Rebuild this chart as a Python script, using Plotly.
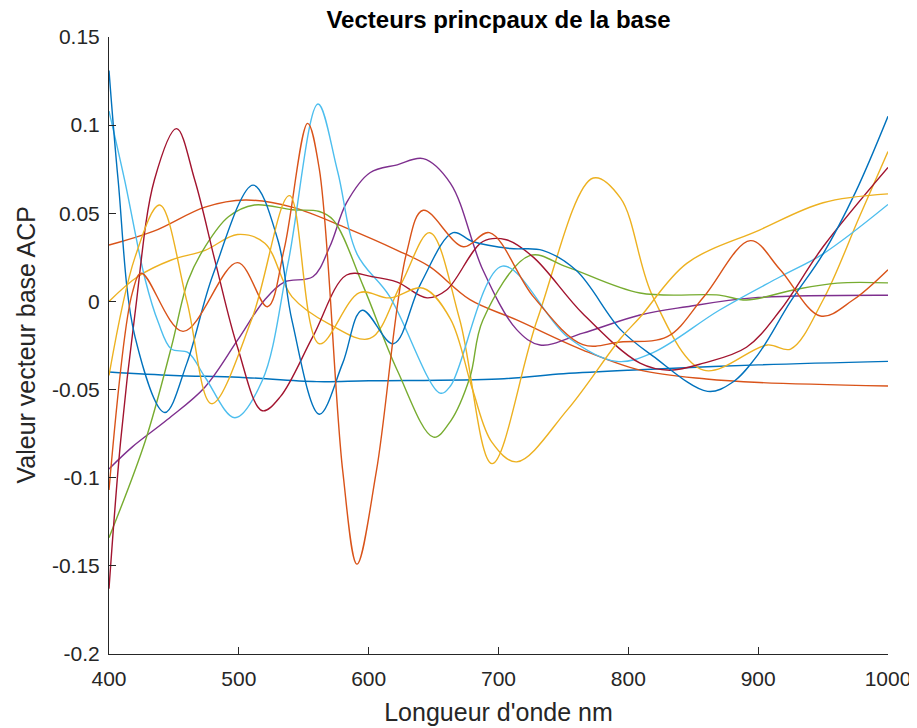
import plotly.graph_objects as go

# wavelength samples (nm) and values for each principal vector
blue_flat_x = [400, 450, 500, 560, 600, 700, 750, 800, 900, 1000]
blue_flat_y = [-0.040, -0.042, -0.043, -0.0455, -0.045, -0.044, -0.041, -0.039, -0.036, -0.034]

orange_smooth_x = [400, 435, 474, 505, 541, 583, 622, 647, 678, 714, 765, 809, 860, 901, 1000]
orange_smooth_y = [0.032, 0.040, 0.0535, 0.0575, 0.0535, 0.0416, 0.029, 0.0197, 0.001, -0.0105,
                   -0.0276, -0.039, -0.044, -0.046, -0.048]

yellow2_x = [400, 422, 448, 474, 499, 520, 541, 570, 601, 625, 647, 670, 695, 730, 773, 794,
             819, 858, 907, 925, 950, 978, 1000]
yellow2_y = [0.0, 0.014, 0.0235, 0.029, 0.038, 0.033, 0.0026, -0.013, -0.021, 0.01, 0.039, -0.01,
             -0.092, -0.01, 0.070, 0.0586, 0.0025, -0.039, -0.0247, -0.027, 0.0008, 0.048, 0.085]

purple_x = [400, 418, 445, 474, 499, 520, 535, 557, 570, 583, 601, 622, 642, 663, 688, 714,
            732, 765, 809, 845, 896, 1000]
purple_y = [-0.095, -0.0825, -0.067, -0.0485, -0.022, 0.001, 0.011, 0.014, 0.031, 0.056, 0.073,
            0.0775, 0.081, 0.067, 0.0178, -0.016, -0.0247, -0.018, -0.0077, -0.003, 0.002, 0.0035]

green_x = [400, 428, 448, 461, 474, 492, 512, 541, 562, 573, 596, 622, 650, 663, 678, 688,
           724, 753, 809, 870, 891, 927, 961, 1000]
green_y = [-0.134, -0.079, -0.026, 0.012, 0.031, 0.048, 0.0547, 0.052, 0.051, 0.046, 0.0084,
           -0.039, -0.077, -0.068, -0.043, -0.0105, 0.026, 0.0195, 0.0048, 0.0036, 0.0008,
           0.0065, 0.0104, 0.0105]

lightblue_x = [400, 412, 428, 438, 448, 461, 474, 497, 518, 538, 561, 576, 591, 616, 655,
               663, 703, 753, 791, 819, 870, 917, 950, 1000]
lightblue_y = [0.108, 0.069, 0.012, -0.012, -0.027, -0.029, -0.043, -0.066, -0.045, 0.022,
               0.112, 0.074, 0.027, 0.003, -0.052, -0.048, 0.020, -0.020, -0.034, -0.029,
               -0.005, 0.014, 0.027, 0.055]

darkred_x = [400, 409, 420, 435, 452, 466, 482, 499, 518, 532, 557, 583, 603, 622, 645, 660,
             688, 706, 727, 765, 809, 832, 858, 891, 917, 950, 1000]
darkred_y = [-0.163, -0.079, -0.007, 0.069, 0.098, 0.069, 0.022, -0.026, -0.062, -0.054, -0.020,
             0.015, 0.014, 0.011, 0.002, 0.0065, 0.034, 0.035, 0.025, -0.007, -0.035, -0.039,
             -0.035, -0.026, -0.005, 0.031, 0.076]

blue_osc_x = [400, 407, 420, 443, 460, 480, 511, 530, 541, 562, 580, 595, 619, 640, 665, 680,
              709, 734, 760, 794, 819, 861, 880, 900, 925, 950, 975, 1000]
blue_osc_y = [0.131, 0.069, -0.02, -0.063, -0.035, 0.015, 0.066, 0.035, -0.011, -0.064, -0.035,
              -0.005, -0.024, 0.010, 0.039, 0.034, 0.030, 0.029, 0.0175, -0.016, -0.031, -0.051,
              -0.046, -0.030, 0.0, 0.027, 0.062, 0.105]

orange_osc_x = [400, 418, 425, 457, 499, 522, 535, 553, 562, 580, 591, 606, 629, 642, 673,
                693, 727, 765, 794, 830, 858, 894, 917, 948, 973, 1000]
orange_osc_y = [-0.107, 0.005, 0.016, -0.017, 0.022, -0.003, 0.030, 0.101, 0.075, -0.096, -0.149,
                -0.096, 0.027, 0.0517, 0.031, 0.039, 0.0026, -0.0245, -0.023, -0.020, 0.0025,
                0.0345, 0.018, -0.0083, 0.0008, 0.018]

yellow1_x = [400, 420, 439, 460, 479, 510, 539, 562, 593, 616, 642, 663, 680, 695, 714, 753,
             794, 809, 845, 901, 950, 1000]
yellow1_y = [-0.042, 0.025, 0.0547, 0.0, -0.058, -0.01, 0.060, -0.024, 0.005, 0.002, 0.0075,
             -0.01, -0.05, -0.08, -0.091, -0.0615, -0.021, -0.009, 0.0216, 0.0405, 0.056, 0.061]

x_tick_vals = [400, 500, 600, 700, 800, 900, 1000]
y_tick_vals = [-0.2, -0.15, -0.1, -0.05, 0, 0.05, 0.1, 0.15]
y_tick_text = ["-0.2", "-0.15", "-0.1", "-0.05", "0", "0.05", "0.1", "0.15"]

series = [
    (blue_flat_x, blue_flat_y, "#0072BD"),
    (orange_smooth_x, orange_smooth_y, "#D95319"),
    (yellow2_x, yellow2_y, "#EDB120"),
    (purple_x, purple_y, "#7E2F8E"),
    (green_x, green_y, "#77AC30"),
    (lightblue_x, lightblue_y, "#4DBEEE"),
    (darkred_x, darkred_y, "#A2142F"),
    (blue_osc_x, blue_osc_y, "#0072BD"),
    (orange_osc_x, orange_osc_y, "#D95319"),
    (yellow1_x, yellow1_y, "#EDB120"),
]

fig = go.Figure()
for xs, ys, col in series:
    fig.add_trace(go.Scatter(x=xs, y=ys, mode="lines",
                             line=dict(color=col, width=1.4, shape="spline", smoothing=1.0),
                             showlegend=False, hoverinfo="skip"))

font_family = "Liberation Sans, Arial, sans-serif"
axis_col = "#262626"
# the page adds an 8px body margin, so the figure is sized to end at the window edge
W, H = 909, 720
L, T = 101, 29
PW = 779
R = W - L - PW
B = H - T - 617
fig.update_layout(
    width=W, height=H,
    margin=dict(l=L, r=R, t=T, b=B, autoexpand=False),
    paper_bgcolor="white", plot_bgcolor="white",
    title=dict(text="<b>Vecteurs princpaux de la base</b>",
               x=(L + PW / 2) / W, xanchor="center",
               y=1 - 3 / H, yanchor="top", yref="container", pad=dict(t=0, b=0),
               font=dict(family=font_family, size=24, color="black")),
    font=dict(family=font_family, color=axis_col),
    annotations=[dict(text="Valeur vecteur base ACP", xref="paper", yref="paper",
                      x=(17 - L) / PW, y=0.5, xanchor="center", yanchor="middle",
                      textangle=-90, showarrow=False,
                      font=dict(family=font_family, size=25, color=axis_col))],
)
fig.update_xaxes(range=[400, 1000], tickvals=x_tick_vals, ticks="inside", ticklen=7,
                 tickcolor=axis_col, showline=True, linecolor=axis_col, linewidth=1,
                 showgrid=False, zeroline=False, automargin=False,
                 ticklabeloverflow="allow", ticklabelstandoff=6,
                 tickfont=dict(size=21, color=axis_col),
                 title=dict(text="Longueur d'onde nm", font=dict(size=25, color=axis_col),
                            standoff=14))
fig.update_yaxes(range=[-0.2, 0.15], tickvals=y_tick_vals, ticktext=y_tick_text,
                 ticks="inside", ticklen=7, tickcolor=axis_col, showline=True,
                 linecolor=axis_col, linewidth=1, showgrid=False, zeroline=False,
                 automargin=False, ticklabelstandoff=4, ticklabeloverflow="allow",
                 tickfont=dict(size=21, color=axis_col))

fig.write_html("out.html")
